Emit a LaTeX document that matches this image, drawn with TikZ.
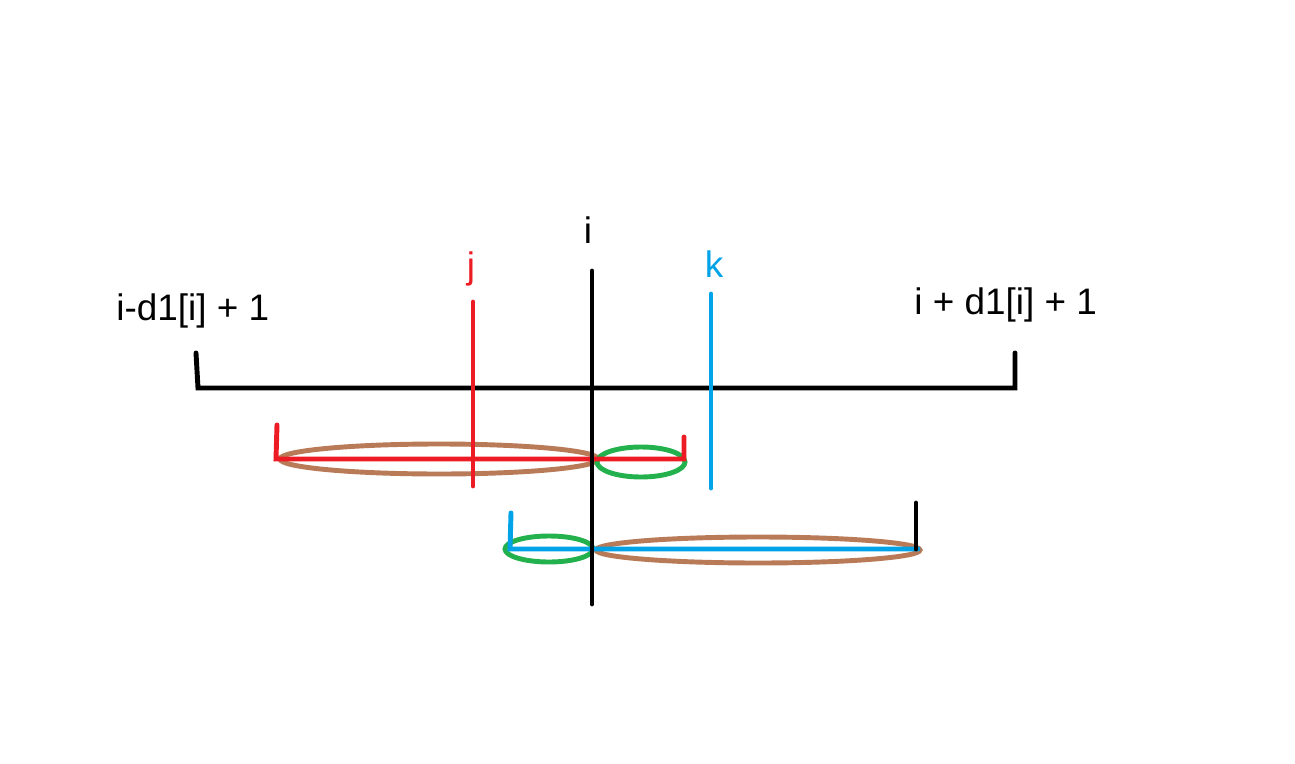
\documentclass[tikz,border=0pt]{standalone}
\usepackage{fontspec}
\setmainfont{Liberation Sans}
\definecolor{paintred}{HTML}{ED1C24}
\definecolor{paintblue}{HTML}{00A2E8}
\definecolor{paintgreen}{HTML}{22B14C}
\definecolor{paintbrown}{HTML}{B97A57}
\tikzset{
  stroke/.style={line width=2.8pt,line cap=round},
  ring/.style={line width=2.8pt,draw=#1},
  lbl/.style={inner sep=0pt,anchor=base,font=\fontsize{21}{25}\selectfont}
}

\begin{document}
\begin{tikzpicture}[x=0.02cm,y=-0.02cm]
\useasboundingbox (0,0) rectangle (1295,764);
% labels
\node[lbl] (ilbl) at (588,243) {i};
\node[lbl,text=paintred] (jlbl) at (471,278) {j};
\node[lbl,text=paintblue] (klbl) at (714,277) {k};
\node[lbl,anchor=base west] (lolbl) at (116,320) {i-d1[i] + 1};
\node[lbl,anchor=base west] (hilbl) at (914,314) {i + d1[i] + 1};
% points
\coordinate (Ltop) at (196,353);
\coordinate (L) at (198,388);
\coordinate (R) at (1015,388);
\coordinate (Rtop) at (1015,353);
\coordinate (itop) at (592,271);
\coordinate (ibot) at (592,604);
\coordinate (jtop) at (473,302);
\coordinate (jbot) at (473,486);
\coordinate (ktop) at (711,294);
\coordinate (kbot) at (711,488);
\coordinate (ratop) at (277,425);
\coordinate (ra) at (276,459);
\coordinate (rb) at (684,459);
\coordinate (rbtop) at (684,437);
\coordinate (batop) at (511,513);
\coordinate (ba) at (510,549);
\coordinate (bb) at (918,549);
\coordinate (bbbot) at (916,549);
\coordinate (bbtop) at (916,503);
% segment ovals
\draw[ring=paintbrown] (439,459) ellipse [x radius=159,y radius=15];
\draw[ring=paintgreen] (641,462) ellipse [x radius=44,y radius=15];
\draw[ring=paintgreen] (549,549) ellipse [x radius=44,y radius=13];
\draw[ring=paintbrown] (758,550) ellipse [x radius=162,y radius=13];
% red and blue spans
\draw[stroke,paintred] (ratop) -- (ra) -- (rb) -- (rbtop);
\draw[stroke,paintblue] (batop) -- (ba) -- (bb);
\draw[stroke] (bbbot) -- (bbtop);
% main axis
\draw[stroke] (Ltop) -- (L) -- (R) -- (Rtop);
\draw[stroke,paintred] (jtop) -- (jbot);
\draw[stroke,paintblue] (ktop) -- (kbot);
\draw[stroke] (itop) -- (ibot);
\end{tikzpicture}
\end{document}
